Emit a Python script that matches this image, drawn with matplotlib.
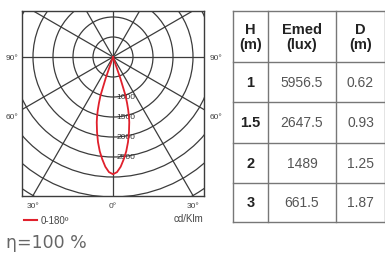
import matplotlib.pyplot as plt
import numpy as np
from matplotlib.patches import Circle

# Polar intensity (cd/klm) vs angle from nadir (deg), symmetric 0-180 plane
angles = [0, 2, 4, 6, 8, 10, 12, 14, 15, 16, 17, 18, 19, 20]
intensity = [2930, 2880, 2750, 2570, 2380, 2160, 1920, 1680, 1540, 1380, 1200, 1000, 560, 0]

ring_values = [500, 1000, 1500, 2000, 2500, 3000, 3500, 4000]
ring_labels = ["1000", "1500", "2000", "2500"]
spoke_angles = [0, 30, 60, 90, 120, 150, 180, 210, 240, 270, 300, 330]

table_header = ["H\n(m)", "Emed\n(lux)", "D\n(m)"]
heights = ["1", "1.5", "2", "3"]
emed = ["5956.5", "2647.5", "1489", "661.5"]
diam = ["0.62", "0.93", "1.25", "1.87"]

plt.rcParams["font.family"] = ["Liberation Sans", "DejaVu Sans"]

GRID = "#3c3c3c"
RED = "#e0202c"
TXT = "#444444"

W, H = 385, 255
fig = plt.figure(figsize=(W / 100, H / 100), dpi=100)

# overlay axes in pixel coordinates
ov = fig.add_axes([0, 0, 1, 1])
ov.set_xlim(0, W)
ov.set_ylim(H, 0)
ov.axis("off")

# polar panel, 25 cd/klm per pixel, centre at (113, 58) px
x0, x1, y0, y1 = 22, 204, 12, 197
cx, cy = 113, 58
s = 25.0
ax = fig.add_axes([x0 / W, 1 - y1 / H, (x1 - x0) / W, (y1 - y0) / H])
ax.set_xlim((x0 - cx) * s, (x1 - cx) * s)
ax.set_ylim((cy - y1) * s, (cy - y0) * s)
ax.set_xticks([])
ax.set_yticks([])
for sp in ax.spines.values():
    sp.set_color(GRID)
    sp.set_linewidth(1.0)

for r in ring_values:
    ax.add_patch(Circle((0, 0), r, fill=False, ec=GRID, lw=0.9))
for a in spoke_angles:
    t = np.radians(a)
    ax.plot([0, 6000 * np.sin(t)], [0, -6000 * np.cos(t)], color=GRID, lw=0.9)

for lab in ring_labels:
    v = float(lab)
    ax.text(90, -v, lab, fontsize=6, color="#333333", ha="left", va="center")

th = np.radians(np.array(angles, dtype=float))
I = np.array(intensity, dtype=float)
th_all = np.concatenate([-th[::-1], th[1:]])
I_all = np.concatenate([I[::-1], I[1:]])
ax.plot(I_all * np.sin(th_all), -I_all * np.cos(th_all), color=RED, lw=1.3, zorder=5)

# angle labels
for x, y, t in [(12, 58, "90°"), (216, 58, "90°"), (12, 118, "60°"), (216, 118, "60°"),
                (33, 207, "30°"), (113, 207, "0°"), (193, 207, "30°")]:
    ov.text(x, y, t, fontsize=6, color=TXT, ha="center", va="center")
ov.text(188, 219, "cd/Klm", fontsize=7, color=TXT, ha="center", va="center")
ov.plot([24, 37], [221, 221], color=RED, lw=1.5)
ov.text(41, 221, "0-180º", fontsize=7, color=TXT, ha="left", va="center")
ov.text(6, 243, "η=100 %", fontsize=12.5, color="#666666", ha="left", va="center",
        family=["DejaVu Sans"])

# table
cols = [233, 268, 336, 385]
rows = [12, 63, 103, 144, 184, 223]
for xx in cols:
    ov.plot([xx, xx], [rows[0], rows[-1]], color="#777777", lw=1.0)
for yy in rows:
    ov.plot([cols[0], cols[-1]], [yy, yy], color="#777777", lw=1.0)
for j, txt in enumerate(table_header):
    ov.text((cols[j] + cols[j + 1]) / 2, (rows[0] + rows[1]) / 2, txt, fontsize=10.5,
            fontweight="bold", color="#222222", ha="center", va="center", linespacing=1.0)
for i in range(len(heights)):
    yc = (rows[i + 1] + rows[i + 2]) / 2
    ov.text((cols[0] + cols[1]) / 2, yc, heights[i], fontsize=10.5, fontweight="bold",
            color="#222222", ha="center", va="center")
    ov.text((cols[1] + cols[2]) / 2, yc, emed[i], fontsize=10, color="#555555",
            ha="center", va="center")
    ov.text((cols[2] + cols[3]) / 2, yc, diam[i], fontsize=10, color="#555555",
            ha="center", va="center")

fig.savefig("out.png", dpi=100)
